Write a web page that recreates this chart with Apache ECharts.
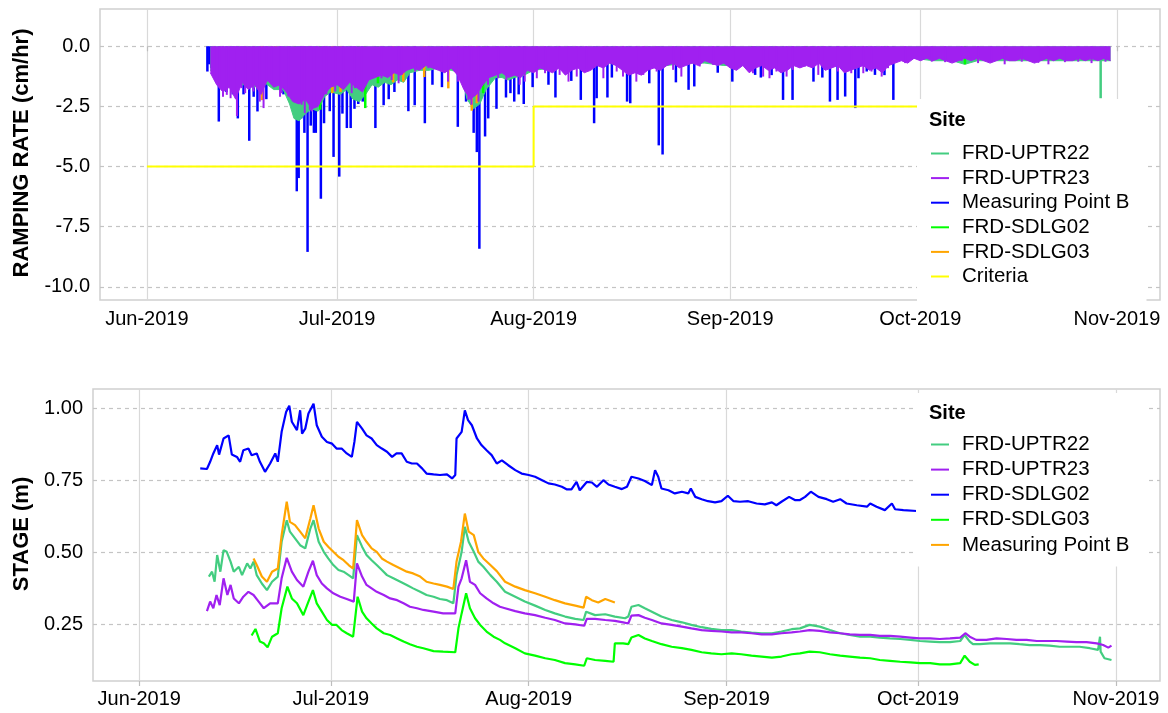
<!DOCTYPE html>
<html lang="en">
<head>
<meta charset="UTF-8">
<title>Ramping rate and stage</title>
<script src="https://cdn.jsdelivr.net/npm/echarts@6/dist/echarts.min.js"></script>
<style>
  html, body { margin: 0; padding: 0; background: #fff; }
  #chart { width: 1168px; height: 713px; }
</style>
</head>
<body>
<div id="chart"></div>
<script>
// x values are days counted from 1 Jun 2019 (day 0)
var monthTicks = [0, 30, 61, 92, 122, 153];
var monthLabels = ['Jun-2019', 'Jul-2019', 'Aug-2019', 'Sep-2019', 'Oct-2019', 'Nov-2019'];
var rateTicks = [-10, -7.5, -5, -2.5, 0];
var stageTicks = [0.25, 0.5, 0.75, 1.0];

var topNames = ['FRD-UPTR22', 'FRD-UPTR23', 'Measuring Point B', 'FRD-SDLG02', 'FRD-SDLG03', 'Criteria'];
var topColors = ['#43CD80', '#A020F0', '#0000FF', '#00FF00', '#FFA500', '#FFFF00'];
var bottomNames = ['FRD-UPTR22', 'FRD-UPTR23', 'FRD-SDLG02', 'FRD-SDLG03', 'Measuring Point B'];
var bottomColors = ['#43CD80', '#A020F0', '#0000FF', '#00FF00', '#FFA500'];

// ---- ramping rate (cm/hr) ----
// FRD-UPTR23: daily lower edge of the dense band, from day 10
var rateUPTR23Start = 10;
var rateUPTR23 = [
  -1.1, -1.6, -1.9, -1.7, -2.2, -1.5, -1.8, -1.6, -2.0, -1.4,
  -1.7, -1.6, -1.9, -2.3, -2.4, -2.2, -2.6, -2.5, -2.0, -1.7,
  -1.6, -1.8, -1.5, -1.7, -1.9, -1.4, -1.3, -1.2, -1.3, -1.1,
  -1.2, -1.0, -0.9, -1.0, -0.8, -0.9, -1.0, -1.1, -0.9, -1.2,
  -1.8, -2.2, -2.0, -1.6, -1.3, -1.2, -1.1, -1.3, -1.2, -1.3,
  -1.0, -1.1, -0.9, -1.0, -1.1, -0.9, -1.2, -1.0, -0.9, -1.1,
  -1.0, -0.8, -0.9, -0.7, -0.8, -1.0, -1.2, -1.1, -1.2, -1.0,
  -0.9, -1.0, -0.8, -0.7, -0.9, -0.8, -0.7, -0.8, -0.6, -0.7,
  -0.8, -0.7, -0.9, -1.0, -0.8, -1.1, -0.9, -0.8, -1.0, -0.9,
  -1.1, -1.0, -0.8, -0.9, -0.8, -0.9, -0.7, -1.0, -0.9, -0.8,
  -1.1, -1.0, -0.9, -0.8, -1.0, -0.9, -1.1, -0.8, -0.7, -0.6,
  -0.7, -0.5, -0.6, -0.5, -0.6, -0.5, -0.6, -0.7, -0.6, -0.5,
  -0.6, -0.5, -0.6, -0.7, -0.6, -0.5, -0.6, -0.6, -0.5, -0.6,
  -0.7, -0.6, -0.5, -0.6, -0.5, -0.6, -0.6, -0.5, -0.6, -0.5,
  -0.6, -0.5, -0.6
];
// FRD-UPTR23 single drops below the band [day, value]
var rateUPTR23Drops = [
  [10.7, -1.33], [11.5, -1.74], [12.0, -2.1], [12.6, -2.02], [13.2, -2.16], [13.8, -1.95], [14.2, -2.9],
  [14.9, -1.74], [15.5, -1.95], [16.8, -1.88], [17.8, -2.3], [18.4, -2.57], [18.9, -1.47], [19.7, -1.6],
  [21.0, -2.1], [21.2, -1.95], [22.3, -2.09], [24.4, -2.43], [24.9, -2.78], [25.7, -2.64], [26.0, -2.71],
  [26.8, -2.3], [27.8, -2.02], [28.3, -2.0], [29.7, -1.88], [31.0, -1.6], [32.3, -1.95], [32.8, -1.74],
  [33.9, -1.47], [37.0, -1.33], [38.6, -1.4], [39.7, -1.54], [40.2, -1.19], [42.3, -1.05], [44.4, -0.91],
  [46.5, -1.05], [47.5, -1.47], [49.1, -1.47], [50.1, -1.6], [50.7, -2.23], [51.2, -2.43], [52.3, -2.3],
  [53.8, -1.6], [55.4, -1.33], [56.7, -1.4], [58.8, -1.6], [59.6, -1.47], [61.5, -1.33], [62.8, -1.12],
  [65.1, -1.19], [66.5, -1.47], [67.8, -1.26], [69.3, -0.98], [72.0, -1.33], [74.1, -1.05], [75.1, -1.26],
  [77.2, -1.47], [78.3, -1.19], [80.4, -1.05], [83.0, -0.98], [84.3, -1.26], [87.2, -0.84], [89.3, -0.77],
  [92.5, -0.91], [95.6, -1.12], [97.2, -1.26], [98.2, -1.33], [99.3, -1.05], [100.9, -1.26], [101.9, -0.98],
  [103.8, -0.84], [104.8, -0.84], [105.9, -1.19], [106.9, -0.98], [109.0, -1.05], [111.1, -1.12],
  [113.0, -1.12], [114.3, -1.05], [115.9, -1.26], [116.9, -0.91], [119.6, -0.7], [123.8, -0.64],
  [125.9, -0.66], [128.5, -0.61], [131.1, -0.7], [133.2, -0.66], [135.3, -0.75], [138.0, -0.64],
  [140.6, -0.69], [142.2, -0.75], [144.8, -0.66], [146.9, -0.64], [149.0, -0.7], [151.2, -0.64]
];
// FRD-UPTR22 lower edge [day, value]
var rateUPTR22 = [
  [10, -1.0], [12, -1.5], [14, -1.6], [15.5, -1.6], [17, -1.7], [18.5, -1.5], [20, -1.8], [21.5, -1.8],
  [22.5, -2.4], [23.2, -3.0], [24, -3.1], [25, -2.8], [26, -2.6], [27, -2.7], [28, -2.1], [29, -1.9],
  [30.5, -2.0], [31.5, -1.8], [32.5, -2.2], [33.5, -2.3], [34.5, -2.0], [35.5, -1.6], [36.5, -1.7],
  [37.5, -1.5], [38.5, -1.6], [39.5, -1.4], [40.5, -1.5], [41.5, -1.1], [43, -1.0], [44.5, -1.0],
  [46, -0.9], [48, -1.0], [49.5, -1.1], [50.5, -2.2], [51.5, -2.6], [52.5, -2.4], [53.5, -1.8],
  [55, -1.3], [56, -1.3], [57, -1.4], [58, -1.3], [59.5, -1.2], [61, -1.0], [64, -0.9], [67, -0.9],
  [70, -0.8], [73, -0.7], [76, -0.9], [79, -0.9], [82, -0.8], [85, -0.7], [88, -0.7], [91, -0.8],
  [94, -0.8], [97, -0.7], [100, -0.8], [103, -0.7], [106, -0.7], [109, -0.7], [112, -0.8],
  [115, -0.8], [118, -0.6], [121, -0.5], [124, -0.6], [127, -0.6], [129, -0.75], [131, -0.6],
  [134, -0.6], [137, -0.6], [140, -0.6], [143, -0.6], [146, -0.6], [149, -0.6], [152, -0.6]
];
var rateUPTR22Drops = [[150.4, -2.16]];
// Measuring Point B drops [day, value]
var rateMPB = [
  [9.5, -1.05], [9.8, -0.75], [10.1, -0.9], [11.3, -3.13], [12.5, -1.9], [13.5, -2.0], [14.3, -3.0],
  [15.2, -2.0], [16.1, -3.93], [16.8, -2.1], [17.4, -2.71], [18.8, -2.2], [20.2, -1.6], [21.5, -2.0],
  [22.5, -2.3], [23.6, -6.03], [23.9, -5.48], [24.3, -3.0], [24.8, -3.6], [25.3, -8.55], [25.8, -3.3],
  [26.3, -3.6], [26.6, -3.6], [27.4, -6.34], [27.9, -3.2], [28.8, -2.7], [29.4, -4.6], [30.3, -5.42],
  [30.8, -2.8], [31.5, -3.4], [32.1, -3.4], [32.7, -2.6], [33.3, -2.4], [34.0, -2.3], [36.0, -3.4],
  [37.3, -2.45], [38.1, -2.2], [39.0, -1.9], [41.2, -2.7], [42.2, -2.45], [43.8, -3.2], [45.0, -1.6],
  [46.5, -1.7], [49.0, -3.35], [50.3, -2.3], [51.5, -3.6], [52.0, -4.4], [52.4, -8.42], [53.3, -3.75],
  [53.8, -3.0], [55.1, -2.6], [56.6, -2.13], [57.3, -1.95], [57.9, -2.3], [58.6, -2.0], [59.4, -2.4],
  [60.8, -1.7], [63.3, -1.6], [64.4, -2.13], [66.9, -1.44], [68.4, -2.23], [70.5, -3.2], [70.9, -2.16],
  [72.6, -2.13], [73.3, -1.3], [75.7, -2.3], [76.2, -2.37], [79.2, -1.54], [80.7, -4.12], [81.3, -4.5],
  [83.4, -1.5], [85.4, -1.81], [86.3, -1.67], [90.0, -1.1], [92.3, -1.47], [95.9, -1.19], [96.8, -1.3],
  [98.5, -1.2], [100.3, -2.23], [101.8, -2.23], [103.4, -0.77], [105.1, -1.47], [106.5, -1.3],
  [107.7, -2.3], [108.9, -2.23], [110.1, -2.09], [111.7, -2.57], [112.2, -1.33], [113.5, -1.05],
  [114.8, -1.19], [116.3, -1.2], [117.7, -2.23]
];
var rateSDLG02 = [
  [23.3, -2.3], [27.3, -2.64], [33.3, -1.05], [34.4, -2.57], [36.4, -1.54], [53.0, -1.95],
  [95.4, -0.9], [104.0, -0.57], [129.0, -0.75]
];
var rateSDLG03 = [
  [18.1, -2.24], [19.7, -1.55], [20.3, -1.2], [29.2, -1.95], [30.5, -1.9], [38.8, -1.5],
  [40.4, -1.47], [43.7, -1.28], [47.5, -1.75], [51.2, -2.68], [52.0, -2.37]
];
var criteria = [[0, -5], [61, -5], [61, -2.5], [122, -2.5]];

// ---- stage (m) [day, value] ----
var stageUPTR22 = [
  [10.9,0.416],[11.4,0.433],[11.8,0.398],[12.2,0.491],[12.7,0.433],[13.2,0.508],[13.7,0.502],[14.3,0.468],
  [14.8,0.433],[15.6,0.45],[16.1,0.421],[16.9,0.462],[17.4,0.444],[17.9,0.468],[18.4,0.421],[19.2,0.392],
  [20,0.369],[20.8,0.398],[21.7,0.416],[22.3,0.537],[23.1,0.612],[23.6,0.572],[24.4,0.549],[25.2,0.525],
  [26,0.514],[26.8,0.583],[27.3,0.612],[28.1,0.537],[28.9,0.502],[29.6,0.479],[30.4,0.456],[31.2,0.439],
  [32,0.433],[32.8,0.421],[33.5,0.41],[34.1,0.56],[34.9,0.52],[35.6,0.491],[36.4,0.473],[37.2,0.456],
  [38,0.439],[38.8,0.421],[39.8,0.41],[40.9,0.398],[41.9,0.387],[42.9,0.375],[44,0.363],[45,0.352],
  [46.1,0.346],[47.1,0.338],[48.2,0.334],[49.2,0.323],[49.7,0.421],[50.5,0.502],[51,0.589],[51.6,0.537],
  [52.4,0.502],[53.1,0.468],[53.9,0.45],[55,0.421],[56,0.398],[57.3,0.363],[58.9,0.346],[60.4,0.329],
  [62,0.315],[63.6,0.3],[65.1,0.288],[66.7,0.277],[68.3,0.269],[69.6,0.265],[70,0.294],[71.4,0.282],
  [73,0.285],[74.5,0.277],[76.1,0.271],[76.6,0.277],[77.1,0.311],[78.2,0.317],[79.2,0.306],[80.3,0.294],
  [81.8,0.277],[83.4,0.265],[85,0.257],[86.5,0.248],[88.1,0.24],[89.6,0.234],[91.2,0.23],[92.8,0.23],
  [94.3,0.225],[95.9,0.221],[97.5,0.219],[99.1,0.219],[100.6,0.225],[102.2,0.233],[103.5,0.236],[105,0.248],
  [106.6,0.242],[108.2,0.23],[109.8,0.219],[111.3,0.213],[112.9,0.207],[114.5,0.207],[116,0.204],[117.6,0.201],
  [119.2,0.199],[120.8,0.196],[122.3,0.192],[123.9,0.19],[125.4,0.188],[127,0.188],[128.6,0.192],[129.3,0.213],
  [130.1,0.19],[130.6,0.181],[131.7,0.181],[133.3,0.184],[134.8,0.184],[136.4,0.184],[137.9,0.181],[139.5,0.178],
  [141.1,0.178],[142.6,0.176],[144.2,0.172],[145.8,0.172],[147.3,0.172],[148.9,0.167],[150.2,0.161],[150.5,0.207],
  [150.6,0.155],[151.2,0.132],[152.3,0.126]
];
var stageUPTR23 = [
  [10.6,0.296],[11.1,0.329],[11.6,0.306],[12.1,0.352],[12.6,0.317],[13.2,0.41],[13.8,0.352],[14.3,0.387],
  [14.8,0.34],[15.6,0.323],[16.3,0.346],[17.1,0.363],[17.9,0.352],[18.7,0.329],[19.5,0.306],[20.5,0.323],
  [21.7,0.323],[22.3,0.41],[23.1,0.481],[23.9,0.433],[24.7,0.404],[25.7,0.381],[26.5,0.433],[27.2,0.471],
  [27.8,0.421],[28.6,0.392],[29.4,0.375],[30.4,0.358],[31.5,0.346],[32.5,0.338],[33.6,0.329],[34.1,0.462],
  [34.9,0.416],[35.6,0.387],[36.4,0.375],[37.2,0.363],[38.3,0.352],[39.3,0.34],[40.4,0.334],[41.4,0.323],
  [42.4,0.311],[43.5,0.306],[44.5,0.3],[46.1,0.294],[47.6,0.288],[49.5,0.288],[50,0.381],[50.5,0.41],
  [51.2,0.473],[51.8,0.398],[52.6,0.387],[53.4,0.358],[54.4,0.34],[55.5,0.323],[56.5,0.311],[57.3,0.306],
  [58.9,0.296],[60.4,0.288],[62,0.282],[63.6,0.273],[65.1,0.265],[66.7,0.253],[68.3,0.25],[69.7,0.245],
  [70.1,0.269],[71.4,0.269],[73,0.265],[74.5,0.262],[75.8,0.257],[76.6,0.253],[77.1,0.28],[78.2,0.282],
  [79.2,0.273],[80.3,0.265],[81.8,0.253],[83.4,0.248],[85,0.242],[86.5,0.236],[88.1,0.23],[89.6,0.227],
  [91.2,0.225],[92.8,0.222],[94.3,0.222],[95.9,0.219],[97.5,0.215],[99.1,0.215],[100.6,0.219],[102.2,0.222],
  [103.5,0.225],[105,0.23],[106.6,0.227],[108.2,0.222],[109.8,0.219],[111.3,0.215],[112.9,0.213],[114.5,0.213],
  [116,0.21],[117.6,0.21],[119.2,0.207],[120.8,0.204],[122.3,0.201],[123.9,0.201],[125.4,0.199],[127,0.201],
  [128.6,0.204],[129.4,0.219],[130.1,0.207],[131.1,0.196],[132.7,0.196],[134.3,0.201],[135.9,0.199],[137.4,0.196],
  [139,0.196],[140.6,0.192],[142.1,0.192],[143.7,0.192],[145.3,0.19],[146.8,0.188],[148.4,0.188],[150,0.184],
  [151,0.178],[151.8,0.169],[152.3,0.176]
];
var stageSDLG02 = [
  [9.55,0.792],[10.6,0.79],[11.1,0.815],[11.6,0.844],[12.2,0.873],[12.5,0.84],[13.2,0.896],[14,0.907],
  [14.5,0.84],[15.3,0.832],[15.8,0.815],[16.3,0.855],[17.1,0.861],[17.6,0.838],[18.4,0.844],[18.9,0.815],
  [19.7,0.78],[20.5,0.809],[21.3,0.844],[21.7,0.815],[22.3,0.919],[23,0.988],[23.5,1.01],[23.9,0.954],
  [24.7,0.925],[25.2,0.994],[25.5,0.913],[26,0.93],[26.5,0.983],[27.3,1.017],[27.8,0.942],[28.6,0.902],
  [29.4,0.884],[30.2,0.878],[30.9,0.861],[31.7,0.861],[32.5,0.844],[33.3,0.832],[33.7,0.884],[34.1,0.954],
  [34.9,0.93],[35.6,0.907],[36.4,0.896],[37.2,0.873],[38,0.861],[38.8,0.85],[39.6,0.832],[40.3,0.844],
  [41.1,0.844],[41.9,0.815],[42.7,0.809],[43.5,0.809],[44.3,0.792],[45,0.774],[46.1,0.771],[47.1,0.769],
  [48.2,0.771],[49,0.757],[49.5,0.769],[49.7,0.896],[50.5,0.919],[51,0.994],[51.5,0.96],[52.1,0.942],
  [52.9,0.896],[53.6,0.873],[54.4,0.855],[55.2,0.838],[56,0.809],[56.8,0.82],[57.8,0.803],[58.9,0.786],
  [59.9,0.774],[61,0.769],[62,0.763],[63.1,0.751],[64.1,0.74],[65.1,0.736],[66.2,0.728],[67,0.719],
  [67.7,0.719],[68.5,0.745],[69,0.716],[70.1,0.745],[70.9,0.743],[71.7,0.728],[72.7,0.751],[73.5,0.736],
  [74.5,0.728],[75.6,0.72],[76.4,0.728],[77.1,0.763],[78.2,0.757],[79.2,0.748],[80.3,0.734],[80.8,0.786],
  [81.3,0.763],[81.8,0.722],[82.9,0.716],[83.9,0.705],[85,0.711],[86,0.705],[86.4,0.722],[87.1,0.693],
  [88.1,0.685],[89.1,0.678],[90.2,0.674],[91.2,0.678],[92.2,0.697],[93.1,0.678],[94.1,0.676],[95.4,0.678],
  [96.7,0.67],[98,0.667],[99.1,0.674],[99.8,0.664],[100.6,0.676],[101.8,0.693],[102.7,0.682],[103.5,0.682],
  [104.3,0.693],[105.2,0.711],[106.4,0.693],[107.7,0.685],[108.7,0.676],[109.8,0.685],[110.8,0.67],[112.4,0.664],
  [114,0.659],[114.5,0.67],[115.5,0.659],[116.8,0.647],[117.9,0.67],[118.4,0.65],[119.7,0.647],[121.8,0.644]
];
var stageSDLG03 = [
  [17.6,0.211],[18.2,0.234],[18.9,0.19],[19.5,0.184],[20.1,0.17],[20.8,0.207],[21.7,0.219],[22.3,0.306],
  [23.2,0.381],[23.9,0.34],[24.7,0.323],[25.7,0.282],[26.5,0.329],[27.2,0.369],[27.8,0.323],[28.6,0.294],
  [29.4,0.265],[30.2,0.248],[30.9,0.248],[31.7,0.23],[32.5,0.219],[33.5,0.207],[34.2,0.346],[34.9,0.294],
  [35.6,0.271],[36.4,0.253],[37.2,0.236],[38.3,0.219],[39.3,0.213],[40.4,0.201],[41.4,0.19],[42.4,0.181],
  [43.5,0.172],[44.5,0.167],[46.1,0.157],[47.6,0.155],[49.5,0.153],[50,0.236],[50.5,0.288],[51.2,0.358],
  [51.8,0.306],[52.6,0.271],[53.4,0.248],[54.4,0.225],[55.5,0.207],[56.5,0.196],[57.3,0.184],[58.9,0.167],
  [60.4,0.149],[62,0.141],[63.6,0.132],[65.1,0.126],[66.7,0.115],[68.3,0.111],[69.7,0.106],[70.1,0.132],
  [71.4,0.126],[73,0.123],[74.3,0.12],[74.5,0.184],[75.8,0.184],[76.6,0.181],[77.1,0.204],[78.2,0.213],
  [79.2,0.201],[80.3,0.192],[81.8,0.181],[83.4,0.172],[85,0.167],[86.5,0.161],[88.1,0.153],[89.6,0.149],
  [91.2,0.146],[92.8,0.149],[94.3,0.146],[95.9,0.141],[97.5,0.138],[99.1,0.134],[100.6,0.138],[102.2,0.146],
  [103.5,0.149],[105,0.155],[106.6,0.153],[108.2,0.146],[109.8,0.141],[111.3,0.138],[112.9,0.134],[114.5,0.132],
  [116,0.126],[117.6,0.123],[119.2,0.12],[120.8,0.118],[122.3,0.115],[123.9,0.115],[125.4,0.111],[127,0.111],
  [128.6,0.115],[129.3,0.141],[130.1,0.12],[130.9,0.109],[131.5,0.111]
];
var stageMPB = [
  [17.9,0.479],[18.4,0.456],[19.2,0.416],[20,0.398],[20.8,0.433],[21.7,0.444],[22.3,0.56],[23.1,0.676],
  [23.6,0.606],[24.4,0.595],[25.2,0.572],[26,0.549],[26.8,0.618],[27.3,0.664],[28.1,0.583],[28.9,0.537],
  [29.6,0.52],[30.4,0.502],[31.2,0.485],[32,0.473],[32.8,0.456],[33.5,0.444],[34.1,0.612],[34.9,0.56],
  [35.6,0.537],[36.4,0.514],[37.2,0.502],[38,0.479],[38.8,0.468],[39.8,0.456],[40.9,0.444],[41.9,0.433],
  [42.9,0.427],[44,0.416],[45,0.398],[46.1,0.392],[47.1,0.387],[48.2,0.381],[49.2,0.373],[49.7,0.468],
  [50.4,0.537],[51,0.635],[51.6,0.572],[52.4,0.56],[53.1,0.502],[53.9,0.479],[55,0.456],[56,0.435],
  [57.3,0.398],[58.9,0.381],[60.4,0.369],[62,0.358],[63.6,0.346],[65.1,0.334],[66.7,0.323],[68.3,0.315],
  [69.6,0.308],[70,0.346],[70.9,0.334],[71.9,0.326],[73,0.338],[74.5,0.326]
];

var FONT = '"Liberation Sans", Arial, Helvetica, sans-serif';
function daily(start, arr) { return arr.map(function (v, i) { return [start + i, v]; }); }
function monthLabel(v) {
  var best = 0;
  for (var i = 1; i < monthTicks.length; i++) {
    if (Math.abs(monthTicks[i] - v) < Math.abs(monthTicks[best] - v)) best = i;
  }
  return monthLabels[best];
}

var chart = echarts.init(document.getElementById('chart'), null, { renderer: 'canvas' });

function xAxisFor(grid, min, max, margin) {
  return {
    type: 'value', gridIndex: grid, min: min, max: max,
    axisLine: { show: false },
    axisTick: { show: true, length: 5, customValues: monthTicks, lineStyle: { color: '#bdbdbd', width: 1.2 } },
    axisLabel: { customValues: monthTicks, formatter: monthLabel, fontSize: 20, color: '#000', fontFamily: FONT, margin: margin },
    splitLine: { show: true, lineStyle: { color: '#d9d9d9', width: 1.2 } }
  };
}
function yAxisFor(grid, min, max, ticks, digits) {
  return {
    type: 'value', gridIndex: grid, min: min, max: max,
    axisLine: { show: false },
    axisTick: { show: false, customValues: ticks },
    axisLabel: { customValues: ticks, formatter: function (v) { return v.toFixed(digits); },
                 fontSize: 20, color: '#000', fontFamily: FONT, margin: 10 },
    splitLine: { show: true, lineStyle: { color: '#c4c4c4', width: 1.2, type: [4, 4] } }
  };
}
function bars(name, data, color, z, width) {
  return { name: name, type: 'bar', xAxisIndex: 0, yAxisIndex: 0, data: data, barWidth: width || 2.5, barGap: '-100%',
           itemStyle: { color: color }, z: z, silent: true };
}
function band(name, data, color, z) {
  return { name: name, type: 'line', xAxisIndex: 0, yAxisIndex: 0, data: data, symbol: 'none',
           lineStyle: { color: color, width: 1 }, itemStyle: { color: color },
           areaStyle: { color: color, opacity: 1 }, z: z, silent: true };
}
function stageLine(name, data, color) {
  return { name: name, type: 'line', xAxisIndex: 1, yAxisIndex: 1, data: data, symbol: 'none',
           lineStyle: { color: color, width: 2.2 }, itemStyle: { color: color }, z: 3, silent: true };
}
function legendFor(names, colors, left, top, padding, gap) {
  return {
    orient: 'vertical', left: left, top: top, padding: padding, itemGap: gap,
    backgroundColor: '#fff', icon: 'rect', itemWidth: 18, itemHeight: 2, selectedMode: false, z: 10,
    textStyle: { fontSize: 20.5, fontFamily: FONT, color: '#000', lineHeight: 20, padding: [0, 0, 0, 8] },
    data: names.map(function (n, i) {
      return { name: n, itemStyle: { color: colors[i] }, lineStyle: { color: colors[i] } };
    })
  };
}

var option = {
  animation: false,
  backgroundColor: '#fff',
  grid: [
    { left: 100, top: 9, width: 1060, height: 291, show: true, borderColor: '#d0d0d0', borderWidth: 1.5, backgroundColor: '#fff' },
    { left: 93, top: 389, width: 1067, height: 292, show: true, borderColor: '#d0d0d0', borderWidth: 1.5, backgroundColor: '#fff' }
  ],
  xAxis: [xAxisFor(0, -7.4, 159.8, 9), xAxisFor(1, -7.25, 159.9, 8)],
  yAxis: [yAxisFor(0, -10.55, 1.55, rateTicks, 1), yAxisFor(1, 0.053, 1.068, stageTicks, 2)],
  legend: [
    legendFor(topNames, topColors, 917, 99, [44, 17, 16, 14], 3.6),
    legendFor(bottomNames, bottomColors, 916, 393, [41, 17, 11, 15], 4.1)
  ],
  graphic: [
    { type: 'text', x: 22, y: 153, rotation: Math.PI / 2, z: 20,
      style: { text: 'RAMPING RATE (cm/hr)', font: 'bold 22px ' + FONT, fill: '#000', align: 'center', verticalAlign: 'middle' } },
    { type: 'text', x: 22, y: 534, rotation: Math.PI / 2, z: 20,
      style: { text: 'STAGE (m)', font: 'bold 22px ' + FONT, fill: '#000', align: 'center', verticalAlign: 'middle' } },
    { type: 'text', x: 929, y: 120, z: 20,
      style: { text: 'Site', font: 'bold 20px ' + FONT, fill: '#000', align: 'left', verticalAlign: 'middle' } },
    { type: 'text', x: 929, y: 413, z: 20,
      style: { text: 'Site', font: 'bold 20px ' + FONT, fill: '#000', align: 'left', verticalAlign: 'middle' } }
  ],
  series: [
    bars('Measuring Point B', rateMPB, '#0000FF', 2),
    band('FRD-UPTR22', rateUPTR22, '#43CD80', 3),
    bars('FRD-UPTR22', rateUPTR22Drops, '#43CD80', 3),
    bars('FRD-SDLG02', rateSDLG02, '#00FF00', 4),
    bars('FRD-SDLG03', rateSDLG03, '#FFA500', 4),
    band('FRD-UPTR23', daily(rateUPTR23Start, rateUPTR23), '#A020F0', 5),
    bars('FRD-UPTR23', rateUPTR23Drops, '#A020F0', 5, 2),
    { name: 'Criteria', type: 'line', xAxisIndex: 0, yAxisIndex: 0, data: criteria, symbol: 'none',
      lineStyle: { color: '#FFFF00', width: 2 }, itemStyle: { color: '#FFFF00' }, z: 6, silent: true },
    stageLine('FRD-UPTR22', stageUPTR22, '#43CD80'),
    stageLine('FRD-UPTR23', stageUPTR23, '#A020F0'),
    stageLine('FRD-SDLG02', stageSDLG02, '#0000FF'),
    stageLine('FRD-SDLG03', stageSDLG03, '#00FF00'),
    stageLine('Measuring Point B', stageMPB, '#FFA500')
  ]
};
chart.setOption(option);
</script>
</body>
</html>
